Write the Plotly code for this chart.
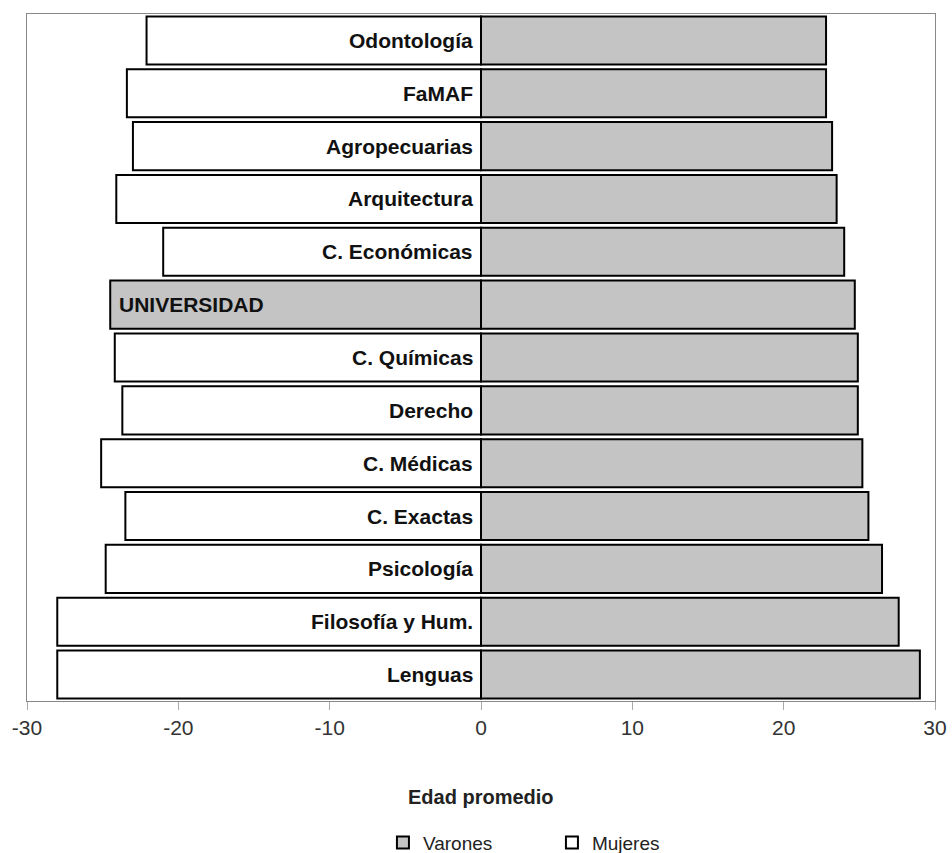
import plotly.graph_objects as go

categorias = ["Odontología", "FaMAF", "Agropecuarias", "Arquitectura", "C. Económicas",
              "UNIVERSIDAD", "C. Químicas", "Derecho", "C. Médicas", "C. Exactas",
              "Psicología", "Filosofía y Hum.", "Lenguas"]
varones = [22.8, 22.8, 23.2, 23.5, 24.0, 24.7, 24.9, 24.9, 25.2, 25.6, 26.5, 27.6, 29.0]
mujeres = [22.1, 23.4, 23.0, 24.1, 21.0, 24.5, 24.2, 23.7, 25.1, 23.5, 24.8, 28.0, 28.0]
x_ticks = [-30, -20, -10, 0, 10, 20, 30]

GRAY = "#c4c4c4"
FONT = "Liberation Sans, Arial, sans-serif"
mujeres_neg = [-v for v in mujeres]
fill_m = [GRAY if c == "UNIVERSIDAD" else "white" for c in categorias]

fig = go.Figure()
fig.add_trace(go.Bar(
    y=categorias, x=varones, orientation="h", name="Varones",
    marker=dict(color=GRAY, line=dict(color="black", width=2)),
))
fig.add_trace(go.Bar(
    y=categorias, x=mujeres_neg, orientation="h", name="Mujeres",
    marker=dict(color=fill_m, line=dict(color="black", width=2)),
))

label_font = dict(family=FONT, size=21, color="#111")
for c, m in zip(categorias, mujeres_neg):
    if c == "UNIVERSIDAD":
        fig.add_annotation(x=m, y=c, text="<b>%s</b>" % c, showarrow=False,
                           xanchor="left", xshift=7, font=label_font)
    else:
        fig.add_annotation(x=0, y=c, text="<b>%s</b>" % c, showarrow=False,
                           xanchor="right", xshift=-6, font=label_font)

# axis title
fig.add_annotation(x=0.5, y=0, xref="paper", yref="paper", text="<b>Edad promedio</b>",
                   showarrow=False, xanchor="center", yanchor="middle", yshift=-96,
                   font=dict(family=FONT, size=20, color="#222"))

fig.update_layout(
    width=952, height=853,
    margin=dict(l=27, r=17, t=14, b=152, autoexpand=False),
    barmode="relative", bargap=0.09,
    plot_bgcolor="white", paper_bgcolor="white",
    showlegend=True,
    legend=dict(orientation="h", x=0.392, xanchor="left",
                yref="container", y=0.012, yanchor="middle",
                entrywidth=124, traceorder="normal",
                font=dict(family=FONT, size=19, color="#222")),
    font=dict(family=FONT, color="#222"),
)
fig.update_xaxes(
    range=[-30, 30], tickvals=x_ticks, ticktext=[str(v) for v in x_ticks],
    showgrid=False, zeroline=False, showline=True, linecolor="#888", linewidth=1, mirror=True,
    ticks="outside", ticklen=8, tickcolor="#aaa", automargin=False,
    tickfont=dict(family=FONT, size=21, color="#333"),
)
fig.update_yaxes(
    categoryorder="array", categoryarray=categorias, autorange="reversed",
    showticklabels=False, showgrid=False, zeroline=False, automargin=False,
    showline=True, linecolor="#888", linewidth=1, mirror=True, ticks="",
)

fig.write_html("out.html", config={"displayModeBar": False},
               post_script="document.body.style.margin='0';document.body.style.overflow='hidden';")
